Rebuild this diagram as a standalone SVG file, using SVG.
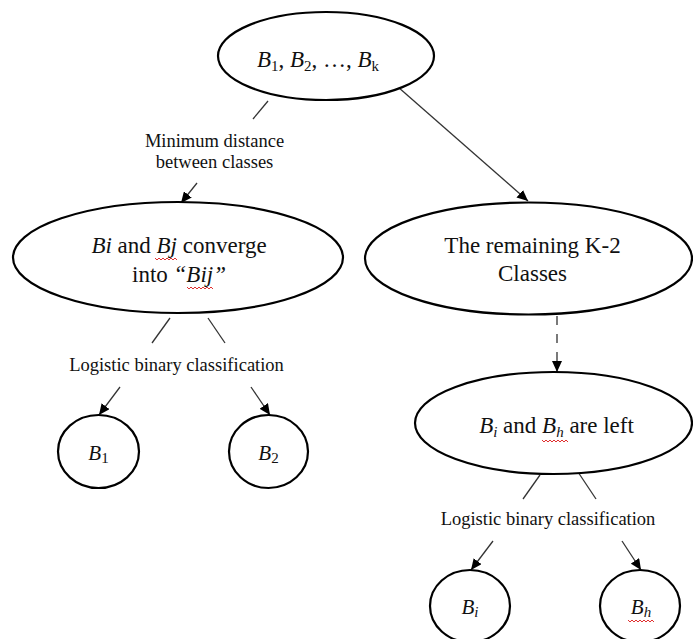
<svg xmlns="http://www.w3.org/2000/svg" width="693" height="639" viewBox="0 0 693 639">
<style>
.node{fill:#fff;stroke:#000;stroke-width:2.2}
.t{font-family:"Liberation Serif","Times New Roman",serif;fill:#111}
.big{font-size:23px}
.mid{font-size:18.5px}
.lab{font-size:21px}
.it{font-style:italic}
.sub{font-size:15px}
.conn{stroke:#333;stroke-width:1.3;fill:none}
.dash{stroke-dasharray:9,9}
.sq{stroke:#e03030;stroke-width:1;fill:none}
</style>
<defs>
<marker id="ah" markerUnits="userSpaceOnUse" markerWidth="11" markerHeight="10" refX="11" refY="5" orient="auto">
<path d="M0,0 L11,5 L0,10 z" fill="#000"/>
</marker>
</defs>
<rect width="693" height="639" fill="#fff"/>
<g id="connectors">
<line class="conn" x1="398" y1="87" x2="528" y2="201" marker-end="url(#ah)"/>
<line class="conn" x1="268" y1="101" x2="253" y2="119"/>
<line class="conn" x1="197" y1="183" x2="181" y2="203" marker-end="url(#ah)"/>
<line class="conn" x1="170" y1="318" x2="152" y2="343"/>
<line class="conn" x1="208" y1="318" x2="225" y2="343"/>
<line class="conn" x1="120" y1="387" x2="99" y2="415" marker-end="url(#ah)"/>
<line class="conn" x1="251" y1="387" x2="270" y2="415" marker-end="url(#ah)"/>
<line class="conn dash" x1="557" y1="316" x2="557" y2="372" marker-end="url(#ah)"/>
<line class="conn" x1="540" y1="475" x2="523" y2="499"/>
<line class="conn" x1="578" y1="472" x2="596" y2="499"/>
<line class="conn" x1="493" y1="541" x2="471" y2="570" marker-end="url(#ah)"/>
<line class="conn" x1="622" y1="541" x2="641" y2="570" marker-end="url(#ah)"/>
<text class="t mid" x="214.5" y="147" text-anchor="middle">Minimum distance</text>
<text class="t mid" x="214.5" y="168" text-anchor="middle">between classes</text>
<text class="t mid" x="176.5" y="371" text-anchor="middle">Logistic binary classification</text>
<text class="t mid" x="548" y="525" text-anchor="middle">Logistic binary classification</text>
</g>
<g id="n-top">
<ellipse class="node" cx="326" cy="56" rx="108" ry="44"/>
<text class="t big" x="318" y="67" text-anchor="middle"><tspan class="it">B</tspan><tspan class="sub" dy="4">1</tspan><tspan dy="-4">, </tspan><tspan class="it">B</tspan><tspan class="sub" dy="4">2</tspan><tspan dy="-4">, …, </tspan><tspan class="it">B</tspan><tspan class="sub" dy="4">k</tspan></text>
</g>
<g id="n-merge">
<ellipse class="node" cx="178" cy="257.5" rx="165" ry="55.5"/>
<text class="t big" x="179" y="253" text-anchor="middle"><tspan class="it">Bi</tspan> and <tspan class="it">Bj</tspan> converge</text>
<text class="t big" x="179" y="282" text-anchor="middle">into <tspan class="it">“Bij”</tspan></text>
<polyline class="sq" points="155,258 157,260 159,258 161,260 163,258 165,260 167,258 169,260 171,258 173,260 175,258 177,260"/>
<polyline class="sq" points="187,287 189,289 191,287 193,289 195,287 197,289 199,287 201,289 203,287 205,289 207,287 209,289 211,287 213,289"/>
</g>
<g id="n-remaining">
<ellipse class="node" cx="528.5" cy="258.5" rx="163.5" ry="56"/>
<text class="t big" x="532.5" y="253" text-anchor="middle">The remaining K-2</text>
<text class="t big" x="532.5" y="281" text-anchor="middle">Classes</text>
</g>
<g id="n-left">
<ellipse class="node" cx="553.5" cy="423" rx="138.5" ry="51"/>
<text class="t big" x="556.5" y="433" text-anchor="middle"><tspan class="it">B</tspan><tspan class="sub it" dy="4">i</tspan><tspan dy="-4"> and </tspan><tspan class="it">B</tspan><tspan class="sub it" dy="4">h</tspan><tspan dy="-4"> are left</tspan></text>
<polyline class="sq" points="542,440 544,442 546,440 548,442 550,440 552,442 554,440 556,442 558,440 560,442 562,440 564,442 566,440 568,442"/>
</g>
<g id="n-b1">
<ellipse class="node" cx="98.5" cy="451.5" rx="40.5" ry="36.5"/>
<text class="t lab" x="98.5" y="460" text-anchor="middle"><tspan class="it">B</tspan><tspan class="sub" dy="3">1</tspan></text>
</g>
<g id="n-b2">
<ellipse class="node" cx="268.5" cy="451.5" rx="39.5" ry="36.5"/>
<text class="t lab" x="268.5" y="460" text-anchor="middle"><tspan class="it">B</tspan><tspan class="sub" dy="3">2</tspan></text>
</g>
<g id="n-bi">
<ellipse class="node" cx="470" cy="606" rx="40" ry="36"/>
<text class="t lab" x="470" y="614" text-anchor="middle"><tspan class="it">B</tspan><tspan class="sub it" dy="3">i</tspan></text>
</g>
<g id="n-bh">
<ellipse class="node" cx="640" cy="606" rx="40" ry="36"/>
<text class="t lab" x="641" y="614" text-anchor="middle"><tspan class="it">B</tspan><tspan class="sub it" dy="3">h</tspan></text>
<polyline class="sq" points="628,620 630,622 632,620 634,622 636,620 638,622 640,620 642,622 644,620 646,622 648,620 650,622 652,620 654,622"/>
</g>
</svg>
